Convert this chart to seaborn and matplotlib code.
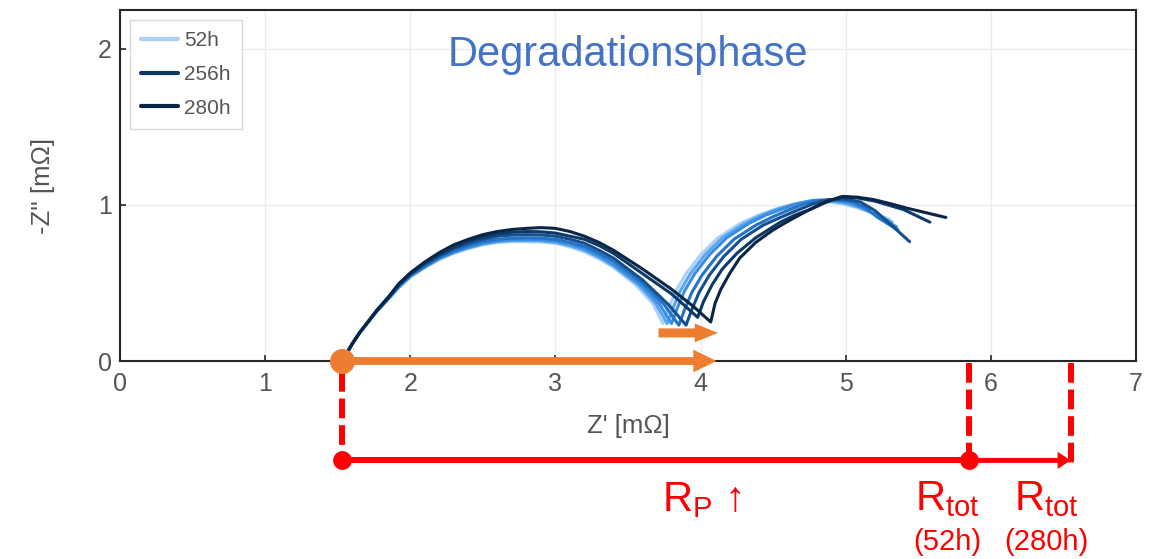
import matplotlib
matplotlib.use("Agg")
import matplotlib.pyplot as plt
from matplotlib.lines import Line2D
import pandas as pd
import seaborn as sns

# operating times [h] and Nyquist curves (Z' / -Z'' in mOhm)
hours = ["52h", "100h", "150h", "200h", "232h", "256h", "280h"]
colors = ["#a9d1f7", "#5aa5ec", "#3a8de0", "#2473c6", "#154f8c", "#0c3966", "#0a2546"]

# common Z' positions of the first (high frequency) arc
zre_arc = [1.55, 1.60, 1.65, 1.70, 1.77, 1.85, 1.92, 2.00, 2.10, 2.20, 2.30, 2.40,
           2.50, 2.60, 2.70, 2.80, 2.90, 3.00, 3.10, 3.20, 3.30, 3.40]

zre_52 = zre_arc + [3.55, 3.67, 3.74, 3.78, 3.83, 3.90, 4.00, 4.12, 4.27, 4.40, 4.55, 4.73,
                    4.85, 4.96, 5.07, 5.15, 5.30]
zim_52 = [0.03, 0.11, 0.18, 0.24, 0.32, 0.40, 0.47, 0.54, 0.60, 0.65, 0.69, 0.72,
          0.745, 0.76, 0.765, 0.765, 0.763, 0.755, 0.73, 0.70, 0.655, 0.60,
          0.49, 0.37, 0.24, 0.34, 0.45, 0.56, 0.68, 0.79, 0.88, 0.935, 0.985, 1.02,
          1.022, 1.01, 0.985, 0.96, 0.91]

zre_100 = zre_arc + [3.57, 3.69, 3.77, 3.81, 3.86, 3.93, 4.03, 4.15, 4.30, 4.42, 4.52, 4.64,
                     4.75, 4.87, 4.98, 5.08, 5.17, 5.32]
zim_100 = [0.03, 0.11, 0.18, 0.24, 0.32, 0.40, 0.47, 0.54, 0.60, 0.655, 0.695, 0.725,
           0.75, 0.765, 0.772, 0.772, 0.77, 0.76, 0.74, 0.71, 0.665, 0.61,
           0.49, 0.37, 0.24, 0.34, 0.45, 0.56, 0.68, 0.79, 0.88, 0.935, 0.97, 1.005,
           1.025, 1.027, 1.015, 0.99, 0.955, 0.89]

zre_150 = zre_arc + [3.60, 3.72, 3.80, 3.84, 3.89, 3.96, 4.06, 4.18, 4.33, 4.45, 4.55, 4.67,
                     4.78, 4.90, 5.01, 5.11, 5.20, 5.35]
zim_150 = [0.03, 0.11, 0.18, 0.24, 0.32, 0.40, 0.475, 0.545, 0.605, 0.66, 0.70, 0.73,
           0.755, 0.77, 0.778, 0.78, 0.778, 0.77, 0.75, 0.72, 0.675, 0.62,
           0.48, 0.36, 0.24, 0.34, 0.45, 0.56, 0.68, 0.79, 0.88, 0.935, 0.97, 1.008,
           1.03, 1.032, 1.02, 0.985, 0.94, 0.86]

zre_200 = zre_arc + [3.60, 3.75, 3.85, 3.89, 3.94, 4.01, 4.11, 4.23, 4.38, 4.50, 4.60, 4.71,
                     4.82, 4.94, 5.05, 5.14, 5.22, 5.36]
zim_200 = [0.03, 0.11, 0.18, 0.24, 0.32, 0.40, 0.48, 0.55, 0.61, 0.665, 0.705, 0.74,
           0.765, 0.78, 0.787, 0.79, 0.788, 0.78, 0.76, 0.735, 0.69, 0.64,
           0.50, 0.36, 0.23, 0.33, 0.44, 0.55, 0.67, 0.78, 0.87, 0.925, 0.965, 1.005,
           1.03, 1.032, 1.02, 0.98, 0.92, 0.84]

zre_232 = zre_arc + [3.60, 3.78, 3.90, 3.94, 3.99, 4.06, 4.16, 4.28, 4.43, 4.55, 4.65, 4.77,
                     4.88, 5.00, 5.10, 5.20, 5.28, 5.44]
zim_232 = [0.03, 0.11, 0.18, 0.24, 0.325, 0.41, 0.485, 0.555, 0.62, 0.675, 0.72, 0.755,
           0.78, 0.80, 0.807, 0.81, 0.808, 0.80, 0.78, 0.755, 0.71, 0.66,
           0.52, 0.36, 0.23, 0.33, 0.44, 0.55, 0.67, 0.78, 0.87, 0.92, 0.96, 1.005,
           1.035, 1.037, 1.02, 0.965, 0.90, 0.765]

zre_256 = zre_arc + [3.60, 3.80, 3.98, 4.02, 4.08, 4.15, 4.25, 4.38, 4.55, 4.65, 4.75, 4.86,
                     4.96, 5.08, 5.20, 5.40, 5.58]
zim_256 = [0.03, 0.11, 0.18, 0.24, 0.325, 0.41, 0.49, 0.56, 0.63, 0.685, 0.73, 0.77,
           0.795, 0.815, 0.825, 0.83, 0.828, 0.82, 0.80, 0.78, 0.74, 0.69,
           0.56, 0.43, 0.28, 0.38, 0.49, 0.59, 0.69, 0.79, 0.89, 0.935, 0.97, 1.015,
           1.05, 1.045, 1.025, 0.97, 0.89]

zre_280 = zre_arc + [3.60, 3.80, 3.95, 4.07, 4.10, 4.14, 4.20, 4.27, 4.38, 4.50, 4.62, 4.73,
                     4.86, 4.98, 5.08, 5.19, 5.30, 5.42, 5.69]
zim_280 = [0.03, 0.11, 0.18, 0.24, 0.325, 0.41, 0.495, 0.565, 0.635, 0.695, 0.745, 0.78,
           0.81, 0.83, 0.843, 0.85, 0.855, 0.85, 0.83, 0.80, 0.76, 0.71,
           0.59, 0.46, 0.35, 0.25, 0.37, 0.46, 0.56, 0.66, 0.76, 0.84, 0.905, 0.96,
           1.02, 1.055, 1.05, 1.035, 1.01, 0.98, 0.92]

curves_re = [zre_52, zre_100, zre_150, zre_200, zre_232, zre_256, zre_280]
curves_im = [zim_52, zim_100, zim_150, zim_200, zim_232, zim_256, zim_280]
legend_hours = ["52h", "256h", "280h"]

# resistance markers
r_ohm = 1.53          # start of the first arc
r_min_52 = 3.71       # shift of the arc minimum
r_min_280 = 4.12
r_p_end = 4.11
r_tot_52 = 5.85
r_tot_280 = 6.55

ORANGE = "#ED7D31"
RED = "#FF0000"

sns.set_theme(style="whitegrid", rc={
    "axes.edgecolor": "#262626",
    "axes.linewidth": 1.5,
    "grid.color": "#ececec",
    "grid.linewidth": 1.0,
})
plt.rcParams["font.family"] = ["Liberation Sans", "DejaVu Sans"]
plt.rcParams["mathtext.fontset"] = "custom"
plt.rcParams["mathtext.rm"] = "Liberation Sans"
plt.rcParams["mathtext.it"] = "Liberation Sans:italic"

fig = plt.figure(figsize=(11.56, 5.59), dpi=100)
ax = fig.add_axes([0.1038, 0.3542, 0.8789, 0.628])

frames = []
for h, xr, yi in zip(hours, curves_re, curves_im):
    frames.append(pd.DataFrame({"zre": xr, "zim": yi, "t": h}))
df = pd.concat(frames, ignore_index=True)

sns.lineplot(data=df, x="zre", y="zim", hue="t", hue_order=hours, palette=colors,
             sort=False, estimator=None, lw=2.2, legend=False, ax=ax, zorder=3)

ax.set_xlim(0, 7)
ax.set_ylim(0, 2.25)
ax.set_xticks(range(0, 8))
ax.set_yticks([0, 1, 2])
ax.tick_params(bottom=True, left=True, direction="in", length=4, width=1.2,
               color="#262626", labelsize=18, labelcolor="#555555")
ax.tick_params(axis="x", pad=8)
ax.tick_params(axis="y", pad=6)
ax.set_xlabel("Z' [m\u03a9]", fontsize=18.5, color="#555555", labelpad=13)
ax.set_ylabel("-Z'' [m\u03a9]", fontsize=18.5, color="#555555", labelpad=31)
for s in ax.spines.values():
    s.set_visible(True)
    s.set_color("#262626")

ax.text(3.5, 1.96, "Degradationsphase", ha="center", va="center",
        fontsize=30, color="#4472C4")

handles = [Line2D([0], [0], color=colors[hours.index(h)], lw=3) for h in legend_hours]
leg = ax.legend(handles, legend_hours, loc="upper left", bbox_to_anchor=(0.0098, 0.9715),
                borderaxespad=0, fontsize=15, handlelength=1.75, handletextpad=0.3,
                labelspacing=0.7, borderpad=0.55, fancybox=False, framealpha=1,
                edgecolor="#d9d9d9")
leg.get_frame().set_linewidth(1.0)
for t in leg.get_texts():
    t.set_color("#555555")

# orange arrows: shift of R_ohm..arc minimum
ax.arrow(r_ohm, 0, r_p_end - r_ohm, 0, width=0.05, head_width=0.145, head_length=0.16,
         length_includes_head=True, color=ORANGE, clip_on=False, zorder=5, lw=0)
ax.arrow(r_min_52, 0.18, r_min_280 - r_min_52, 0, width=0.058, head_width=0.12, head_length=0.16,
         length_includes_head=True, color=ORANGE, clip_on=False, zorder=5, lw=0)
ax.plot([r_ohm], [0], "o", ms=17, color=ORANGE, clip_on=False, zorder=6)

# red dimension lines below the axis
y_dim = -0.637
dash = (0, (3.3, 1.15))
ax.plot([r_ohm, r_ohm], [-0.07, y_dim], color=RED, lw=4.3, ls=dash, clip_on=False, zorder=4)
ax.plot([r_tot_52, r_tot_52], [-0.01, y_dim], color=RED, lw=4.3, ls=dash, clip_on=False, zorder=4)
ax.plot([r_tot_280, r_tot_280], [-0.01, -0.69], color=RED, lw=4.3, ls=dash, clip_on=False, zorder=4)
ax.plot([r_ohm, r_tot_52], [y_dim, y_dim], color=RED, lw=4.3, solid_capstyle="butt",
        clip_on=False, zorder=4)
ax.arrow(r_tot_52, y_dim, r_tot_280 - r_tot_52, 0, width=0.032, head_width=0.11, head_length=0.09,
         length_includes_head=True, color=RED, clip_on=False, zorder=4, lw=0)
ax.plot([r_ohm, r_tot_52], [y_dim, y_dim], "o", ms=12.5, color=RED, clip_on=False, zorder=5)

ax.text(3.735, -0.965, "R$_{\\mathrm{P}}$ \u2191", ha="left", va="baseline",
        fontsize=30, color=RED)
ax.text(5.70, -0.958, "R$_{\\mathrm{tot}}$", ha="center", va="baseline", fontsize=30, color=RED)
ax.text(5.70, -1.21, "(52h)", ha="center", va="baseline", fontsize=21, color=RED)
ax.text(6.38, -0.958, "R$_{\\mathrm{tot}}$", ha="center", va="baseline", fontsize=30, color=RED)
ax.text(6.38, -1.21, "(280h)", ha="center", va="baseline", fontsize=21, color=RED)

fig.savefig("out.png", dpi=100)
